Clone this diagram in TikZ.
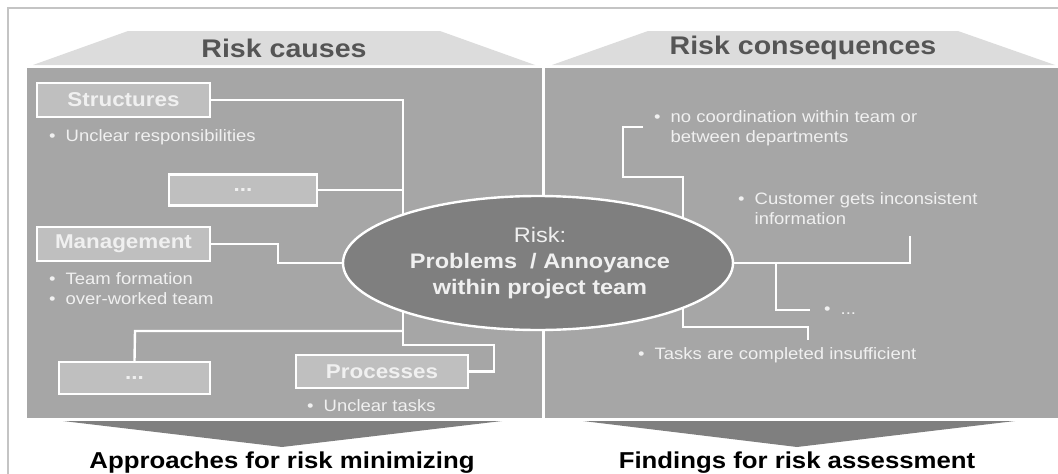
\documentclass[tikz,border=0pt]{standalone}
\usepackage{fontspec}
\setmainfont{Liberation Sans}[FakeStretch=1.12]
\usetikzlibrary{shapes.geometric}
\definecolor{framegray}{HTML}{C4C4C4}
\definecolor{lightpanel}{HTML}{DCDCDC}
\definecolor{panelgray}{HTML}{A6A6A6}
\definecolor{boxgray}{HTML}{BFBFBF}
\definecolor{darkgray}{HTML}{7F7F7F}
\definecolor{titlegray}{HTML}{555555}
\definecolor{whitetext}{HTML}{F0F0F0}
\tikzset{
  conn/.style={draw=white, line width=2.4pt},
  catbox/.style={draw=white, line width=2.4pt, fill=boxgray},
  boxlabel/.style={text=whitetext, font=\bfseries\fontsize{20}{24}\selectfont},
  bullettext/.style={text=whitetext, font=\fontsize{16.5}{20}\selectfont, inner sep=0pt, anchor=west},
  titletext/.style={text=titlegray, font=\bfseries\fontsize{25.5}{30}\selectfont},
  bottomtext/.style={text=black, font=\bfseries\fontsize{23}{28}\selectfont},
}
\newcommand{\bitem}[1]{\begin{tabular}{@{}l@{\hspace{10pt}}l@{}}\textbullet & #1\end{tabular}}
\begin{document}
\begin{tikzpicture}[x=1pt,y=-1pt]
\useasboundingbox (0,0) rectangle (1058,474);
% frame
\draw[framegray, line width=1.2pt] (8,474) -- (8,8) -- (1060,8);
% top trapezoids
\fill[lightpanel] (33,65) -- (128,31) -- (440,31) -- (535,65) -- cycle;
\fill[lightpanel] (552,65) -- (648,31) -- (958,31) -- (1055,65) -- cycle;
\node[titletext] (tl) at (284,48) {Risk causes};
\node[titletext] (tr) at (803,48) {Risk consequences};
% panels
\fill[panelgray] (27,68) rectangle (541.5,418);
\fill[panelgray] (544.5,68) rectangle (1058,418);
% bottom chevrons
\fill[darkgray] (63,421) -- (502,421) -- (282,447) -- cycle;
\fill[darkgray] (583,421) -- (1015,421) -- (797,447) -- cycle;
\node[bottomtext] (bl) at (282,463) {Approaches for risk minimizing};
\node[bottomtext] (br) at (797,463) {Findings for risk assessment};
% boxes
\node[catbox, minimum width=173pt, minimum height=34pt, inner sep=0pt] (S) at (123.5,100) {};
\node[catbox, minimum width=148pt, minimum height=31pt, inner sep=0pt] (D1) at (243,190) {};
\node[catbox, minimum width=173pt, minimum height=34pt, inner sep=0pt] (M) at (123.5,244) {};
\node[catbox, minimum width=151pt, minimum height=32pt, inner sep=0pt] (D2) at (134.5,378) {};
\node[catbox, minimum width=172pt, minimum height=33pt, inner sep=0pt] (P) at (382,371.5) {};
% junction coordinates
\coordinate (j1) at (403,100);
\coordinate (j2) at (403,190);
\coordinate (j3) at (403,331);
\coordinate (j4) at (403,345);
\coordinate (jc) at (403,263);
\coordinate (c0) at (538,263);
% connectors (left)
\draw[conn] (S.east) -- (j1) -- (jc);
\draw[conn] (D1.east) -- (j2);
\draw[conn] (M.east) -- (278,244) -- (278,263) -- (c0);
\draw[conn] (jc) -- (j4) -- (494,345) -- (494,371.5) -- (P.east);
\draw[conn] (j3) -- (135,331) -- (D2.north);
% connectors (right)
\coordinate (r1) at (643,127);
\draw[conn] (r1) -- (623,127) -- (623,177) -- (683,177) -- (683,327) -- (808,327) -- (808,340);
\draw[conn] (c0) -- (910,263) -- (910,236);
\draw[conn] (776,263) -- (776,310) -- (810,310);
% separator
\draw[white, line width=2.6pt] (543,68) -- (543,418);
% ellipse
\node[ellipse, draw=white, line width=2.4pt, fill=darkgray, minimum width=390pt, minimum height=134pt, inner sep=0pt] (E) at (c0) {};
\node[text=whitetext, align=center, font=\fontsize{21}{26}\selectfont] (Et) at (540,263)
  {Risk:\\ \bfseries Problems \ / Annoyance\\ \bfseries within project team};
% box labels
\node[boxlabel] at (S) {Structures};
\node[boxlabel] at (D1) {...};
\node[boxlabel] at (M) {Management};
\node[boxlabel] at (D2) {...};
\node[boxlabel] at (P) {Processes};
% bullets left
\node[bullettext] (b1) at (49,137) {\bitem{Unclear responsibilities}};
\node[bullettext] (b2) at (49,290) {\begin{tabular}{@{}l@{\hspace{10pt}}l@{}}\textbullet & Team formation\\ \textbullet & over-worked team\end{tabular}};
\node[bullettext] (b3) at (307,407) {\bitem{Unclear tasks}};
% bullets right
\node[bullettext] (b4) at (654,128) {\begin{tabular}{@{}l@{\hspace{10pt}}l@{}}\textbullet & no coordination within team or\\ & between departments\end{tabular}};
\node[bullettext] (b5) at (738,210) {\begin{tabular}{@{}l@{\hspace{10pt}}l@{}}\textbullet & Customer gets inconsistent\\ & information\end{tabular}};
\node[bullettext] (b6) at (824,310) {\bitem{...}};
\node[bullettext] (b7) at (638,355) {\bitem{Tasks are completed insufficient}};
\end{tikzpicture}
\end{document}
